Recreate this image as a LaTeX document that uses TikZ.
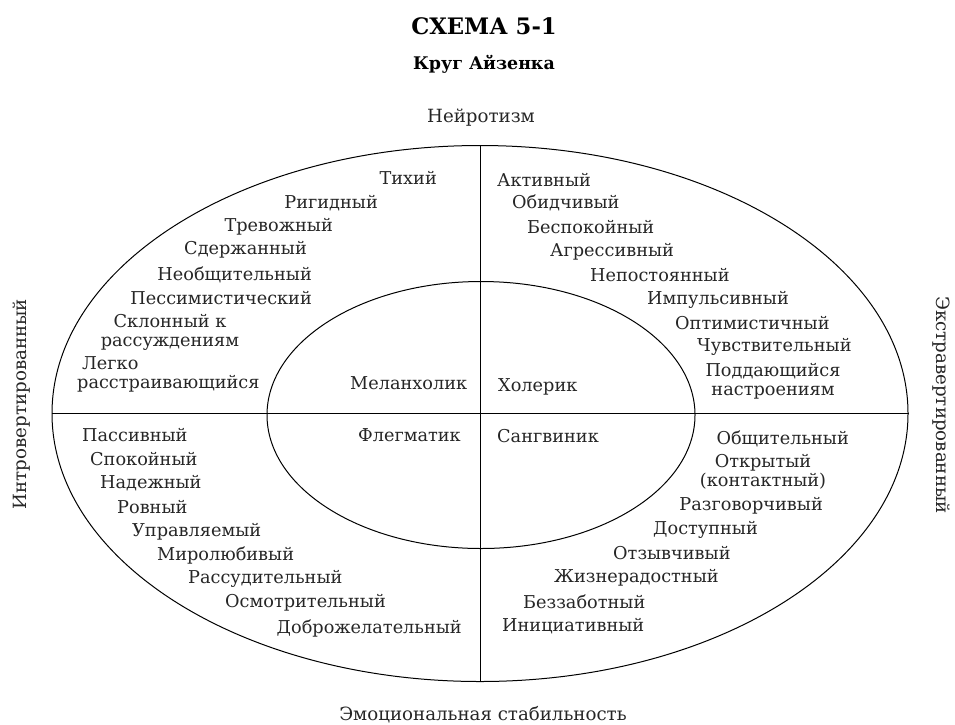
\documentclass[tikz,border=0pt]{standalone}
\usepackage{fontspec}
\setmainfont{DejaVu Serif}
\usetikzlibrary{shapes.geometric}
\begin{document}
\begin{tikzpicture}[x=1pt,y=-1pt,
  txt/.style={inner sep=0pt,font=\fontsize{17.7}{19}\selectfont,text=black!85},
  axis/.style={txt,font=\fontsize{18.2}{20}\selectfont},
  lw/.style={txt,anchor=west},
  le/.style={txt,anchor=east},
  ring/.style={ellipse,draw,line width=1pt,inner sep=0pt}]
\useasboundingbox (0,0) rectangle (955,724);
\node[ring,minimum width=856pt,minimum height=536pt] (outer) at (480,413.5) {};
\node[ring,minimum width=428pt,minimum height=267pt] (inner) at (481,415) {};
\draw[line width=1pt] (outer.north) -- (outer.south);
\draw[line width=1pt] (outer.west) -- (outer.east);
% titles
\node[inner sep=0pt,font=\fontsize{22.7}{26}\selectfont\bfseries] (t1) at (484,26) {СХЕМА 5-1};
\node[inner sep=0pt,font=\fontsize{17.4}{20}\selectfont\bfseries] (t2) at (484,64) {Круг Айзенка};
\node[axis] (ax1) at (481,118) {Нейротизм};
\node[axis] (ax2) at (483,715) {Эмоциональная стабильность};
\node[axis,rotate=90] (ax3) at (22,404) {Интровертированный};
\node[axis,rotate=-90] (ax4) at (941,405) {Экстравертированный};
% upper left
\node[le] (a1) at (437,178) {Тихий};
\node[le] (a2) at (378,203) {Ригидный};
\node[le] (a3) at (333,227) {Тревожный};
\node[le] (a4) at (307,250) {Сдержанный};
\node[le] (a5) at (312,275) {Необщительный};
\node[le] (a6) at (312,298) {Пессимистический};
\node[txt,align=center] (a7) at (170,332) {Склонный к\\рассуждениям};
\node[lw,align=left] (a8) at (77,374) {\hspace*{5pt}Легко\\расстраивающийся};
\node[lw] (m1) at (350,383) {Меланхолик};
% upper right
\node[lw] (b1) at (497,180) {Активный};
\node[lw] (b2) at (512,203) {Обидчивый};
\node[lw] (b3) at (527,227) {Беспокойный};
\node[lw] (b4) at (550,252) {Агрессивный};
\node[lw] (b5) at (590,275) {Непостоянный};
\node[lw] (b6) at (647,300) {Импульсивный};
\node[lw] (b7) at (675,323) {Оптимистичный};
\node[lw] (b8) at (697,347) {Чувствительный};
\node[txt,align=center] (b9) at (773,381) {Поддающийся\\настроениям};
\node[lw] (m2) at (498,387) {Холерик};
% lower left
\node[lw] (c1) at (82,435) {Пассивный};
\node[lw] (c2) at (90,459) {Спокойный};
\node[lw] (c3) at (100,483) {Надежный};
\node[lw] (c4) at (117,507) {Ровный};
\node[lw] (c5) at (132,532) {Управляемый};
\node[lw] (c6) at (157,555) {Миролюбивый};
\node[lw] (c7) at (188,579) {Рассудительный};
\node[lw] (c8) at (225,603) {Осмотрительный};
\node[le] (c9) at (462,628) {Доброжелательный};
\node[le] (m3) at (461,435) {Флегматик};
% lower right
\node[lw] (m4) at (497,436) {Сангвиник};
\node[le] (d1) at (849,439) {Общительный};
\node[txt,align=center] (d2) at (763,472) {Открытый\\(контактный)};
\node[le] (d3) at (823,506) {Разговорчивый};
\node[lw] (d4) at (653,530) {Доступный};
\node[lw] (d5) at (613,553) {Отзывчивый};
\node[lw] (d6) at (554,578) {Жизнерадостный};
\node[lw] (d7) at (523,602) {Беззаботный};
\node[lw] (d8) at (502,626) {Инициативный};
\end{tikzpicture}
\end{document}
